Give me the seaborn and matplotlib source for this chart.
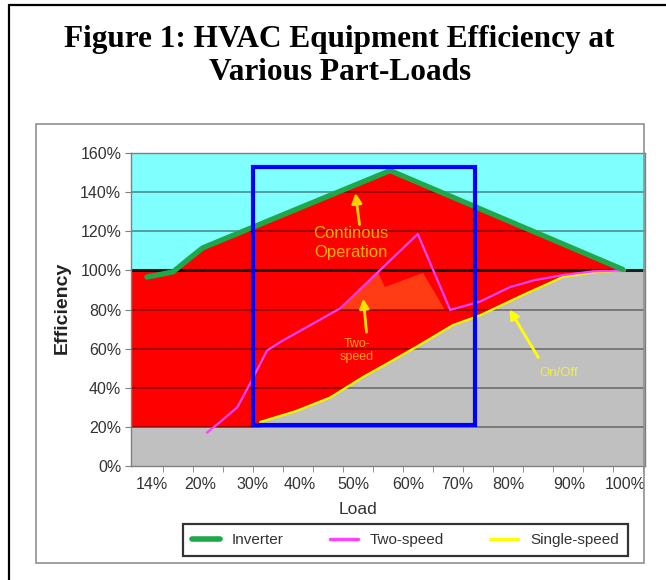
import numpy as np
import pandas as pd
import matplotlib
matplotlib.use("Agg")
import matplotlib.pyplot as plt
from matplotlib.lines import Line2D
from matplotlib.patches import Rectangle
import seaborn as sns

# values: load (%) vs efficiency (%)
inverter_load = [10, 14.9, 17.5, 20.5, 55.8, 99.6]
inverter_eff = [96.6, 99.2, 105, 111.5, 151, 100.5]

twospeed_load = [21.3, 24, 27, 29.4, 32.6, 35.5, 46.4, 61, 67.1, 72.7, 78.4, 83, 88.3, 94, 100]
twospeed_eff = [17, 23, 30, 42, 59, 64, 80.6, 118.6, 79.8, 84, 91.5, 95, 97.6, 99.5, 100]

single_load = [31.3, 38, 44.5, 50.7, 55, 60.8, 67.6, 72.7, 80.8, 88.3, 94.7, 100]
single_eff = [22.5, 28, 35, 45.5, 52, 61, 72, 77, 87.4, 96.6, 99.2, 100]

# extra shaded patch near the two-speed peak
shade_load = [46.4, 53.5, 54.8, 62.0, 66.1]
shade_eff = [79.8, 99.2, 91.5, 98.7, 79.8]

# "continuous operation" box
box_load = [30.0, 71.8]
box_eff = [21, 153]

x_labels = ["14%", "20%", "30%", "40%", "50%", "60%", "70%", "80%", "90%", "100%"]
x_label_pos = [11, 20, 29.8, 38.8, 48.8, 59.2, 68.4, 78, 89.6, 100]
y_ticks = [0, 20, 40, 60, 80, 100, 120, 140, 160]

sns.set_style("white")
plt.rcParams["font.family"] = ["Liberation Sans", "DejaVu Sans"]

fig = plt.figure(figsize=(6.66, 5.8), dpi=100)
ax = fig.add_axes([131/666, 1-466/580, (645-131)/666, (466-153)/580])

xmin, xmax = 7.0, 103.8
ax.set_xlim(xmin, xmax)
ax.set_ylim(0, 160)

# background bands
ax.axhspan(100, 160, color="#80ffff", zorder=0)
ax.axhspan(0, 100, color="#c0c0c0", zorder=0)

# red region between the on/off curve (or 20%) and the inverter curve (or 100%)
xg = np.linspace(xmin, xmax, 800)
upper = np.interp(xg, inverter_load, inverter_eff, left=100, right=100)
upper = np.maximum(upper, np.where(xg < inverter_load[1], 100, 0))
lower = np.interp(xg, single_load, single_eff, left=20, right=100)
ax.fill_between(xg, lower, upper, where=upper > lower, color="#ff0000", lw=0, zorder=1)
ax.fill(shade_load, shade_eff, color="#ff3c14", lw=0, zorder=1)

# grid lines
for y in y_ticks[1:-1]:
    if y == 100:
        ax.axhline(y, color="black", lw=2.2, alpha=0.85, zorder=2)
    else:
        ax.axhline(y, color="black", lw=1.3, alpha=0.4, zorder=2)

df_inv = pd.DataFrame({"load": inverter_load, "eff": inverter_eff})
df_two = pd.DataFrame({"load": twospeed_load, "eff": twospeed_eff})
df_one = pd.DataFrame({"load": single_load, "eff": single_eff})
sns.lineplot(data=df_one, x="load", y="eff", color="#ffff00", lw=1.6, sort=False, ax=ax, zorder=3)
sns.lineplot(data=df_two, x="load", y="eff", color="#ff40ff", lw=1.6, sort=False, ax=ax, zorder=4)
sns.lineplot(data=df_inv, x="load", y="eff", color="#1fa84a", lw=3.8, sort=False, ax=ax, zorder=5)

ax.add_patch(Rectangle((box_load[0], box_eff[0]), box_load[1]-box_load[0], box_eff[1]-box_eff[0],
                       fill=False, edgecolor="#0000ff", lw=3, zorder=6))

# annotations
ax.annotate("", xy=(49.2, 141), xytext=(50.1, 122),
            arrowprops=dict(arrowstyle="-|>", color="#ffd000", lw=2, mutation_scale=15), zorder=7)
ax.text(48.4, 114, "Continous\nOperation", color="#ffb000", fontsize=12, ha="center", va="center",
        linespacing=1.3, zorder=7)
ax.annotate("", xy=(50.7, 87), xytext=(51.4, 67),
            arrowprops=dict(arrowstyle="-|>", color="#ffe000", lw=2, mutation_scale=14), zorder=7)
ax.text(49.6, 59, "Two-\nspeed", color="#ffa020", fontsize=9, ha="center", va="center", zorder=7)
ax.annotate("", xy=(78, 81.3), xytext=(84, 54.2),
            arrowprops=dict(arrowstyle="-|>", color="#ffff00", lw=2, mutation_scale=14), zorder=7)
ax.text(87.5, 47.5, "On/Off", color="#f0f040", fontsize=9.5, ha="center", va="center", zorder=7)

# axes styling
ax.set_yticks(y_ticks)
ax.set_yticklabels([f"{v}%" for v in y_ticks], fontsize=11.5, color="#333333")
ax.set_xticks(x_label_pos)
ax.set_xticklabels(x_labels, fontsize=11.5, color="#333333")
ax.set_xticks(np.arange(13.0, xmax, 5.65), minor=True)
ax.tick_params(axis="x", which="major", length=0, pad=8)
ax.tick_params(axis="x", which="minor", length=4, color="#808080", bottom=True)
ax.tick_params(axis="y", length=4, color="#808080", left=True, pad=3)
for s in ax.spines.values():
    s.set_color("#808080")
    s.set_linewidth(1)
ax.set_xlabel("")
ax.set_ylabel("")

fig.text(62/666, 1-308/580, "Efficiency", rotation=90, fontsize=14, fontweight="bold",
         ha="center", va="center", color="#222222")
fig.text(358/666, 1-509/580, "Load", fontsize=12.5, ha="center", va="center", color="#333333")

fig.text(0.51, 1-56/580, "Figure 1: HVAC Equipment Efficiency at\nVarious Part-Loads",
         fontsize=22.5, fontweight="bold", family=["Liberation Serif", "DejaVu Serif"],
         ha="center", va="center", linespacing=1.22, color="black")

# legend
handles = [Line2D([], [], color="#1fa84a", lw=4),
           Line2D([], [], color="#ff40ff", lw=2.5),
           Line2D([], [], color="#ffff00", lw=2.5)]
leg = fig.legend(handles, ["Inverter", "Two-speed", "Single-speed"], ncol=3,
                 loc="center", bbox_to_anchor=(183/666, 1-563/580, (628-183)/666, 46/580),
                 mode="expand", fontsize=11, frameon=True, fancybox=False,
                 handlelength=1.8, borderaxespad=0, borderpad=0.6)
leg.get_frame().set_edgecolor("black")
leg.get_frame().set_linewidth(1.6)
for t in leg.get_texts():
    t.set_color("#333333")

# chart frame and outer frame
fig.patches.append(Rectangle((36/666, 1-563/580), (644-36)/666, (563-124)/580,
                             transform=fig.transFigure, fill=False, edgecolor="#909090", lw=1.2))
fig.lines.append(Line2D([9/666, 9/666], [0, 1-5/580], transform=fig.transFigure, color="black", lw=1.6))
fig.lines.append(Line2D([9/666, 1], [1-5/580, 1-5/580], transform=fig.transFigure, color="black", lw=1.6))

fig.savefig("out.png", dpi=100)
